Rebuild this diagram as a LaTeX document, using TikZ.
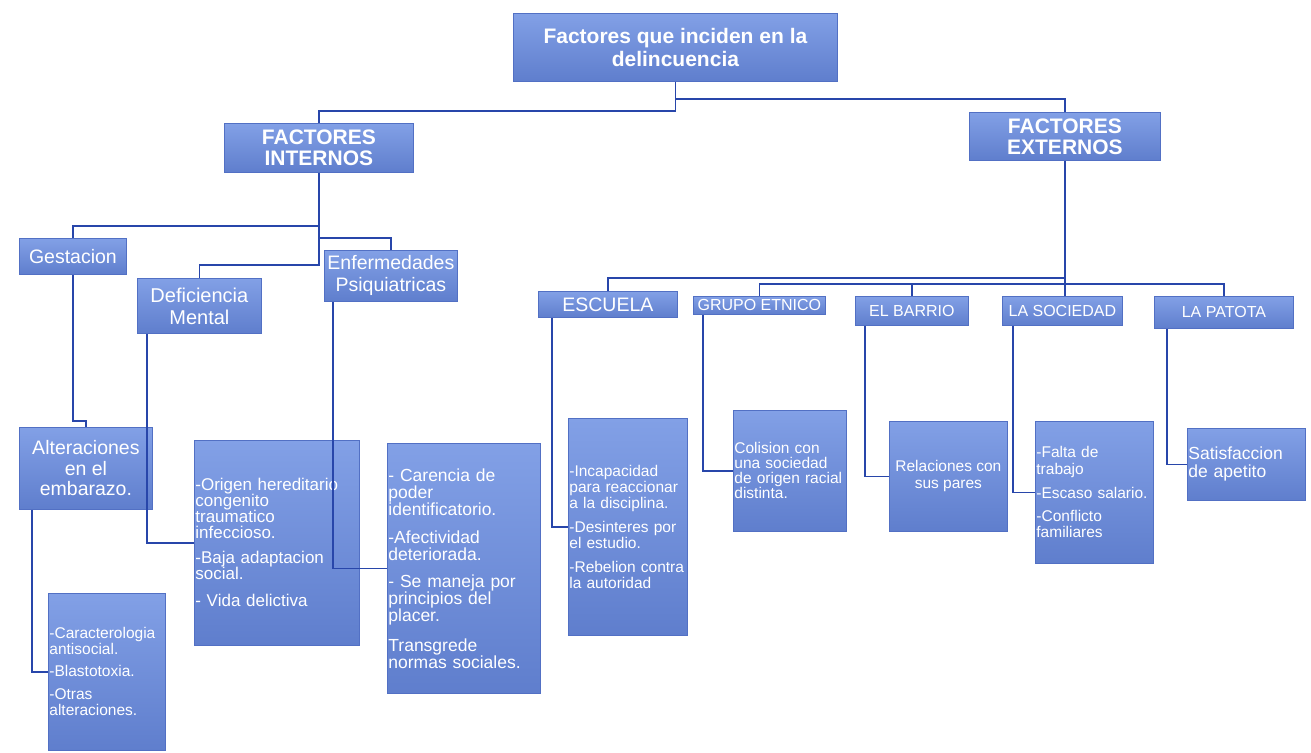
\documentclass[tikz,border=0pt]{standalone}
\usepackage{fontspec}
\setmainfont{Liberation Sans}
\definecolor{boxtop}{RGB}{130,160,230}
\definecolor{boxbot}{RGB}{95,126,205}
\definecolor{boxedge}{RGB}{82,112,196}
\definecolor{lineblue}{RGB}{40,70,170}
\tikzset{
  box/.style={draw=boxedge, line width=0.8pt, top color=boxtop, bottom color=boxbot,
    text=white, inner xsep=1pt, inner ysep=0pt, anchor=north west},
  conn/.style={draw=lineblue, line width=1.6pt},
  lbox/.style 2 args={box, minimum width=#1, minimum height=#2, text width=#1-2pt, align=left},
  cbox/.style 2 args={box, minimum width=#1, minimum height=#2, align=center},
}
\newcommand{\fs}[2]{\fontsize{#1}{#2}\selectfont}
\begin{document}
\begin{tikzpicture}[x=1pt,y=-1pt]
\useasboundingbox (0,0) rectangle (1311,752);
\fill[white] (0,0) rectangle (1311,752);

% top level
\node[cbox={324}{68}, font=\fs{21}{23}\bfseries] (top) at (513,13) {Factores que inciden en la\\delincuencia};
\node[cbox={189}{49}, font=\fs{21}{21}\bfseries] (fi) at (224,123) {FACTORES\\INTERNOS};
\node[cbox={191}{48}, font=\fs{21}{21}\bfseries] (fe) at (969,112) {FACTORES\\EXTERNOS};

% internos
\node[cbox={107}{36}, font=\fs{19.5}{21}] (gest) at (19,238) {Gestacion};
\node[cbox={124}{55}, font=\fs{20}{22}] (defi) at (137,278) {Deficiencia\\Mental};
\node[cbox={133}{51}, font=\fs{19.5}{22}] (enf) at (324,250) {Enfermedades\\Psiquiatricas};
\node[cbox={133}{82}, font=\fs{19.5}{20.5}] (alt) at (19,427) {Alteraciones\\en el\\embarazo.};

\node[lbox={117}{157}, font=\fs{15.5}{16}] (altd) at (48,593)
  {-Caracterologia\\antisocial.\\[6pt]-Blastotoxia.\\[7pt]-Otras\\alteraciones.};
\node[lbox={165}{205}, font=\fs{17}{16}] (defd) at (194,440)
  {-Origen hereditario\\congenito\\traumatico\\infeccioso.\\[9pt]-Baja adaptacion\\social.\\[11pt]- Vida delictiva};
\node[lbox={153}{250}, font=\fs{17.5}{17}] (enfd) at (387,443)
  {- Carencia de\\poder\\identificatorio.\\[11pt]-Afectividad\\deteriorada.\\[10pt]- Se maneja por\\principios del\\placer.\\[13pt]Transgrede\\normas sociales.};

% externos
\node[cbox={139}{26}, font=\fs{19.5}{20}] (esc) at (538,291) {ESCUELA};
\node[cbox={132}{18}, font=\fs{16}{16}] (gru) at (693,296) {GRUPO ETNICO};
\node[cbox={113}{29}, font=\fs{16}{16}] (bar) at (855,296) {EL BARRIO};
\node[cbox={120}{29}, font=\fs{16}{16}] (soc) at (1002,296) {LA SOCIEDAD};
\node[cbox={139}{32}, font=\fs{16}{16}] (pat) at (1154,296) {LA PATOTA};

\node[lbox={119}{217}, font=\fs{15.5}{16}] (escd) at (568,418)
  {-Incapacidad\\para reaccionar\\a la disciplina.\\[8pt]-Desinteres por\\el estudio.\\[8pt]-Rebelion contra\\la autoridad};
\node[lbox={113}{121}, font=\fs{15.5}{15}] (grud) at (733,410)
  {Colision con\\una sociedad\\de origen racial\\distinta.};
\node[cbox={118}{110}, font=\fs{15.5}{17}] (bard) at (889,421) {Relaciones con\\sus pares};
\node[lbox={118}{142}, font=\fs{15.5}{16.5}] (socd) at (1035,421)
  {-Falta de\\trabajo\\[8pt]-Escaso salario.\\[6pt]-Conflicto\\familiares};
\node[lbox={118}{72}, font=\fs{17.5}{18}] (patd) at (1187,428) {Satisfaccion\\de apetito};

% connectors
\draw[conn] (top.south) -- ++(0,17) -| (fe.north);
\draw[conn] (top.south) -- ++(0,29) -| (fi.north);

\draw[conn] (fi.south) -- ++(0,53) -| (gest.north);
\draw[conn] (fi.south) -- ++(0,65) -| (enf.north);
\draw[conn] (fi.south) -- ++(0,92) -| (defi.north);

\draw[conn] (fe.south) -- ++(0,117) -| (esc.north);
\draw[conn] (fe.south) -- (fe.south |- soc.north);
\draw[conn] (fe.south) ++(0,123) -| (gru.north);
\draw[conn] (fe.south) ++(0,123) -| (bar.north);
\draw[conn] (fe.south) ++(0,123) -| (pat.north);

\draw[conn] (gest.south) -- ++(0,146) -| (alt.north);
\draw[conn] ([xshift=13pt]alt.south west) |- (altd.west);
\draw[conn] ([xshift=10pt]defi.south west) |- (defd.west);
\draw[conn] ([xshift=9pt]enf.south west) |- (enfd.west);

\draw[conn] ([xshift=14pt]esc.south west) |- (escd.west);
\draw[conn] ([xshift=10pt]gru.south west) |- (grud.west);
\draw[conn] ([xshift=10pt]bar.south west) |- (bard.west);
\draw[conn] ([xshift=11pt]soc.south west) |- (socd.west);
\draw[conn] ([xshift=13pt]pat.south west) |- (patd.west);
\end{tikzpicture}
\end{document}
